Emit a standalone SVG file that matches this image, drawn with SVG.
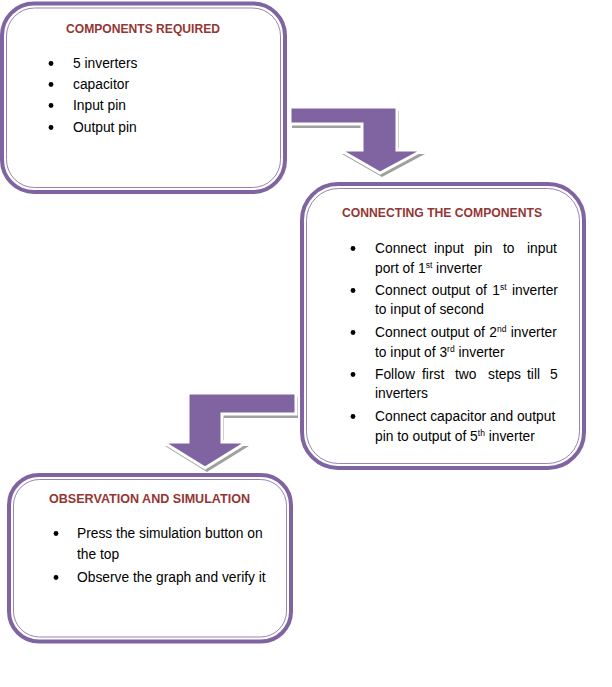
<svg xmlns="http://www.w3.org/2000/svg" width="612" height="687" viewBox="0 0 612 687">
<style>
.outer{fill:#fff;stroke:#8064A2;stroke-width:4}
.inner{fill:none;stroke:#8064A2;stroke-width:1;opacity:0.8}
.title{font-family:"Liberation Sans",Arial,sans-serif;font-size:12px;font-weight:bold;fill:#943634}
.body{font-family:"Liberation Sans",Arial,sans-serif;font-size:13.8px;fill:#000}
.sup{font-size:8.5px}
.bul{fill:#000}
.arrow{fill:#8064A2;stroke:#fff;stroke-width:3;stroke-linejoin:miter}
.shadow{fill:#a0a0a0}
</style>
<rect width="612" height="687" fill="#fff"/>
<g id="connectors">
  <g id="arrow1">
    <polygon class="shadow" transform="translate(2,4)" points="290,107 397,107 397,150 423,150 380,173 340,150 362,150 362,124 290,124"/>
    <polygon class="arrow" points="290,107 397,107 397,150 423,150 380,173 340,150 362,150 362,124 290,124"/>
  </g>
  <g id="arrow2">
    <polygon class="shadow" transform="translate(2,4)" points="188,393 296,393 296,414 222,414 222,442 247,442 205,468 163,442 188,442"/>
    <polygon class="arrow" points="188,393 296,393 296,414 222,414 222,442 247,442 205,468 163,442 188,442"/>
  </g>
</g>
<g id="node1">
  <rect class="outer" x="2" y="3.5" width="283" height="188.5" rx="32"/>
  <rect class="inner" x="6.5" y="8" width="274" height="179.5" rx="28"/>
  <text class="title" x="66" y="33" textLength="154" lengthAdjust="spacingAndGlyphs">COMPONENTS REQUIRED</text>
  <circle class="bul" cx="51" cy="63.5" r="2.4"/>
  <circle class="bul" cx="51" cy="84.5" r="2.4"/>
  <circle class="bul" cx="51" cy="105.5" r="2.4"/>
  <circle class="bul" cx="51" cy="127.5" r="2.4"/>
  <text class="body" x="73" y="68">5 inverters</text>
  <text class="body" x="73" y="89">capacitor</text>
  <text class="body" x="73" y="110">Input pin</text>
  <text class="body" x="73" y="132">Output pin</text>
</g>
<g id="node2">
  <rect class="outer" x="302" y="184" width="282" height="284" rx="36"/>
  <rect class="inner" x="306.5" y="188.5" width="273" height="275" rx="32"/>
  <text class="title" x="342" y="217" textLength="200" lengthAdjust="spacingAndGlyphs">CONNECTING THE COMPONENTS</text>
  <circle class="bul" cx="353" cy="248.5" r="2.4"/>
  <circle class="bul" cx="353" cy="290.5" r="2.4"/>
  <circle class="bul" cx="353" cy="332.5" r="2.4"/>
  <circle class="bul" cx="353" cy="374.5" r="2.4"/>
  <circle class="bul" cx="353" cy="416.5" r="2.4"/>
  <text class="body" y="253"><tspan x="375">Connect</tspan><tspan x="434">input</tspan><tspan x="474">pin</tspan><tspan x="503">to</tspan><tspan x="527">input</tspan></text>
  <text class="body" x="375" y="273">port of 1<tspan class="sup" dy="-5">st</tspan><tspan dy="5"> inverter</tspan></text>
  <text class="body" x="375" y="295" word-spacing="1.5">Connect output of 1<tspan class="sup" dy="-5">st</tspan><tspan dy="5"> inverter</tspan></text>
  <text class="body" x="375" y="314">to input of second</text>
  <text class="body" x="375" y="337" word-spacing="0.5">Connect output of 2<tspan class="sup" dy="-5">nd</tspan><tspan dy="5"> inverter</tspan></text>
  <text class="body" x="375" y="357">to input of 3<tspan class="sup" dy="-5">rd</tspan><tspan dy="5"> inverter</tspan></text>
  <text class="body" y="379"><tspan x="375">Follow</tspan><tspan x="422">first</tspan><tspan x="455">two</tspan><tspan x="488">steps</tspan><tspan x="527">till</tspan><tspan x="550">5</tspan></text>
  <text class="body" x="375" y="398">inverters</text>
  <text class="body" x="375" y="421">Connect capacitor and output</text>
  <text class="body" x="375" y="441">pin to output of 5<tspan class="sup" dy="-5">th</tspan><tspan dy="5"> inverter</tspan></text>
</g>
<g id="node3">
  <rect class="outer" x="9" y="475" width="282" height="166.5" rx="30"/>
  <rect class="inner" x="13.5" y="479.5" width="273" height="157.5" rx="26"/>
  <text class="title" x="49" y="503" textLength="201" lengthAdjust="spacingAndGlyphs">OBSERVATION AND SIMULATION</text>
  <circle class="bul" cx="56" cy="533.5" r="2.4"/>
  <circle class="bul" cx="56" cy="577.5" r="2.4"/>
  <text class="body" x="77" y="538">Press the simulation button on</text>
  <text class="body" x="77" y="559">the top</text>
  <text class="body" x="77" y="582">Observe the graph and verify it</text>
</g>
</svg>
